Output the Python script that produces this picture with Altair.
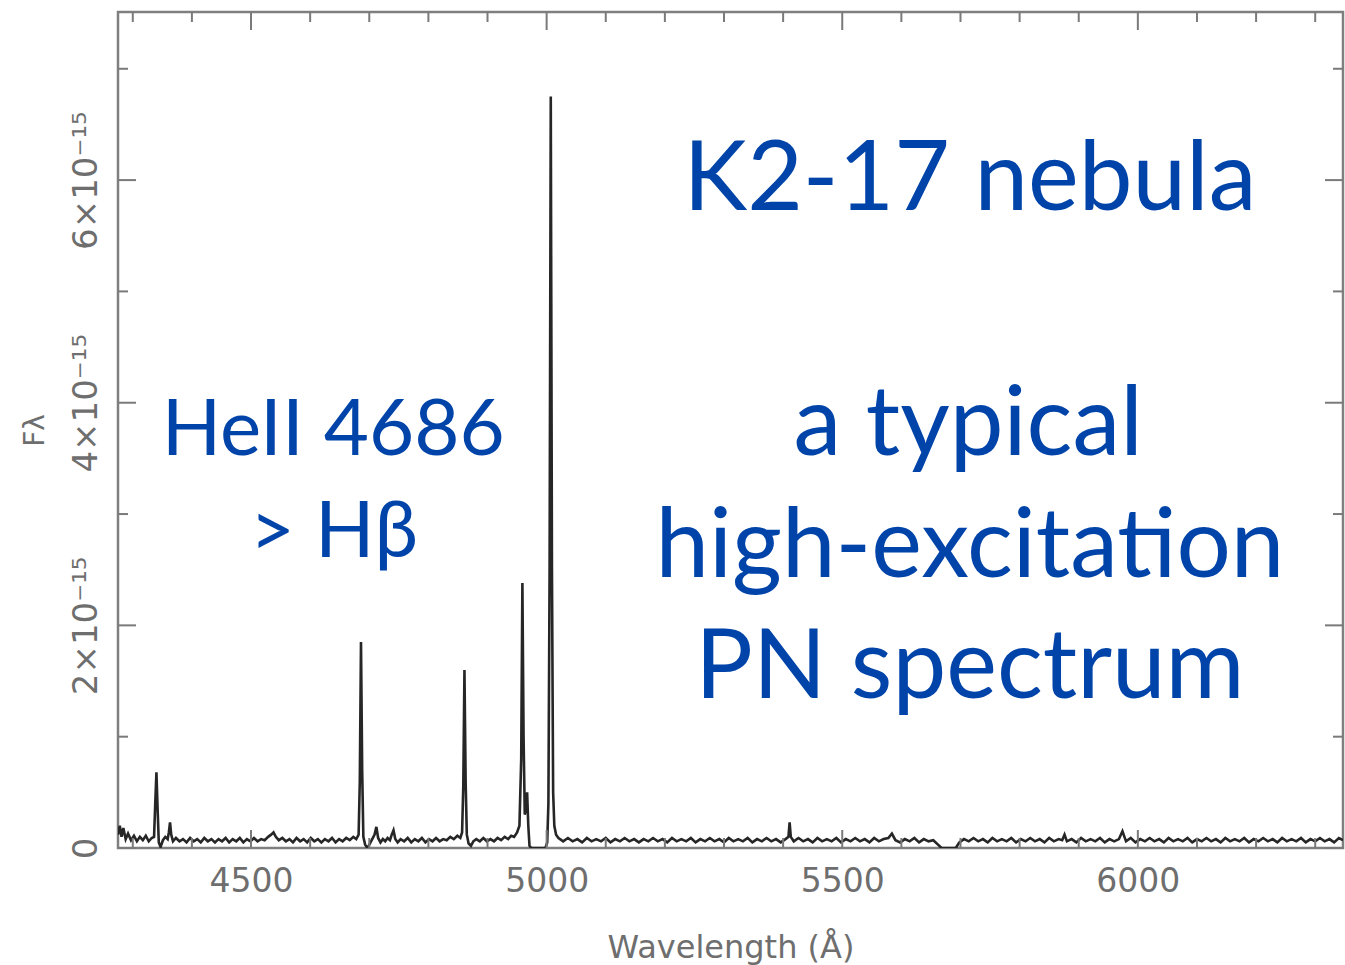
import altair as alt
import pandas as pd

# ---- spectrum (flux in units of 1e-15) ----
wavelength = [
    4275, 4278, 4281, 4284, 4288, 4292, 4297, 4302, 4307, 4312,
    4317, 4322, 4327, 4332, 4336, 4338, 4340, 4342, 4344, 4347,
    4351, 4355, 4359, 4361, 4363, 4365, 4368, 4373, 4379, 4385,
    4391, 4397, 4403, 4409, 4415, 4421, 4427, 4433, 4439, 4445,
    4451, 4457, 4463, 4469, 4475, 4481, 4487, 4493, 4499, 4505,
    4511, 4517, 4523, 4529, 4534, 4538, 4542, 4547, 4553, 4559,
    4565, 4571, 4577, 4583, 4589, 4595, 4601, 4607, 4613, 4619,
    4625, 4631, 4637, 4643, 4649, 4655, 4661, 4667, 4673, 4678,
    4682, 4684, 4686, 4688, 4690, 4693, 4697, 4701, 4705, 4709,
    4712, 4715, 4719, 4723, 4727, 4731, 4735, 4738, 4741, 4744,
    4748, 4753, 4759, 4765, 4771, 4777, 4783, 4789, 4795, 4801,
    4807, 4813, 4819, 4825, 4831, 4837, 4843, 4849, 4854, 4857,
    4859, 4861, 4863, 4865, 4868, 4872, 4876, 4881, 4887, 4893,
    4899, 4905, 4911, 4917, 4923, 4929, 4935, 4940, 4945, 4950,
    4954, 4957, 4959, 4961, 4963, 4965, 4967, 4969, 4971, 4974,
    4980, 4986, 4992, 4998, 5001, 5003, 5005, 5007, 5009, 5011,
    5013, 5016, 5020, 5028, 5036, 5044, 5052, 5060, 5068, 5076,
    5084, 5092, 5100, 5108, 5116, 5124, 5132, 5140, 5148, 5156,
    5164, 5172, 5180, 5188, 5196, 5204, 5212, 5220, 5228, 5236,
    5244, 5252, 5260, 5268, 5276, 5284, 5292, 5300, 5308, 5316,
    5324, 5332, 5340, 5348, 5356, 5364, 5372, 5380, 5388, 5396,
    5404, 5409, 5411, 5413, 5418, 5426, 5434, 5442, 5450, 5458,
    5466, 5474, 5482, 5490, 5498, 5506, 5514, 5522, 5530, 5538,
    5546, 5554, 5562, 5570, 5578, 5584, 5590, 5598, 5606, 5614,
    5622, 5630, 5638, 5646, 5654, 5662, 5668, 5680, 5692, 5698,
    5706, 5714, 5722, 5730, 5738, 5746, 5754, 5762, 5770, 5778,
    5786, 5794, 5802, 5810, 5818, 5826, 5834, 5842, 5850, 5858,
    5866, 5872, 5876, 5880, 5888, 5896, 5904, 5912, 5920, 5928,
    5936, 5944, 5952, 5960, 5968, 5974, 5980, 5988, 5996, 6004,
    6012, 6020, 6028, 6036, 6044, 6052, 6060, 6068, 6076, 6084,
    6092, 6100, 6108, 6116, 6124, 6132, 6140, 6148, 6156, 6164,
    6172, 6180, 6188, 6196, 6204, 6212, 6220, 6228, 6236, 6244,
    6252, 6260, 6268, 6276, 6284, 6292, 6300, 6308, 6316, 6324,
    6332, 6340, 6347,
]
flux = [
    0.12, 0.20, 0.10, 0.18, 0.08, 0.13, 0.07, 0.11, 0.06, 0.10,
    0.07, 0.11, 0.06, 0.09, 0.10, 0.40, 0.68, 0.35, 0.05, 0.01,
    0.07, 0.10, 0.08, 0.14, 0.23, 0.12, 0.06, 0.09, 0.06, 0.08,
    0.05, 0.09, 0.06, 0.08, 0.05, 0.09, 0.06, 0.08, 0.05, 0.08,
    0.06, 0.09, 0.05, 0.08, 0.06, 0.09, 0.05, 0.08, 0.06, 0.09,
    0.06, 0.08, 0.07, 0.10, 0.12, 0.14, 0.10, 0.07, 0.09, 0.06,
    0.08, 0.05, 0.09, 0.06, 0.08, 0.05, 0.09, 0.06, 0.08, 0.05,
    0.08, 0.06, 0.09, 0.05, 0.08, 0.06, 0.09, 0.07, 0.10, 0.08,
    0.12, 0.60, 1.85, 0.70, 0.10, 0.03, 0.00, 0.04, 0.08, 0.12,
    0.19, 0.09, 0.05, 0.08, 0.06, 0.09, 0.07, 0.12, 0.16, 0.08,
    0.05, 0.08, 0.06, 0.09, 0.05, 0.08, 0.06, 0.09, 0.05, 0.08,
    0.06, 0.09, 0.06, 0.08, 0.07, 0.10, 0.08, 0.11, 0.09, 0.14,
    0.55, 1.60, 0.60, 0.12, 0.04, 0.02, 0.06, 0.08, 0.06, 0.09,
    0.06, 0.08, 0.06, 0.09, 0.07, 0.10, 0.08, 0.11, 0.10, 0.14,
    0.20, 0.80, 2.38, 1.00, 0.30, 0.35, 0.50, 0.20, 0.02, 0.00,
    0.00, 0.00, 0.00, 0.00, 0.05, 0.40, 2.50, 6.75, 2.50, 0.50,
    0.20, 0.12, 0.09, 0.06, 0.09, 0.06, 0.08, 0.05, 0.09, 0.06,
    0.08, 0.06, 0.09, 0.05, 0.08, 0.06, 0.09, 0.06, 0.08, 0.05,
    0.08, 0.06, 0.09, 0.06, 0.08, 0.05, 0.09, 0.06, 0.08, 0.06,
    0.09, 0.05, 0.08, 0.06, 0.09, 0.06, 0.08, 0.05, 0.09, 0.06,
    0.08, 0.06, 0.09, 0.05, 0.08, 0.06, 0.09, 0.06, 0.08, 0.05,
    0.08, 0.10, 0.23, 0.10, 0.06, 0.09, 0.06, 0.08, 0.05, 0.09,
    0.06, 0.08, 0.06, 0.09, 0.05, 0.08, 0.06, 0.09, 0.06, 0.08,
    0.05, 0.09, 0.06, 0.08, 0.09, 0.13, 0.07, 0.05, 0.08, 0.06,
    0.09, 0.05, 0.08, 0.06, 0.07, 0.03, 0.00, 0.00, 0.00, 0.05,
    0.08, 0.06, 0.09, 0.06, 0.08, 0.05, 0.09, 0.06, 0.08, 0.06,
    0.09, 0.05, 0.08, 0.06, 0.09, 0.06, 0.08, 0.05, 0.09, 0.06,
    0.08, 0.07, 0.12, 0.06, 0.08, 0.05, 0.09, 0.06, 0.08, 0.06,
    0.09, 0.05, 0.08, 0.06, 0.08, 0.15, 0.06, 0.09, 0.05, 0.08,
    0.06, 0.09, 0.06, 0.08, 0.05, 0.09, 0.06, 0.08, 0.06, 0.09,
    0.05, 0.08, 0.06, 0.09, 0.06, 0.08, 0.05, 0.09, 0.06, 0.08,
    0.06, 0.09, 0.05, 0.08, 0.06, 0.09, 0.06, 0.08, 0.05, 0.09,
    0.06, 0.08, 0.06, 0.09, 0.05, 0.08, 0.06, 0.09, 0.06, 0.08,
    0.05, 0.09, 0.07,
]

# ---- axis ticks ----
x_major = [4500, 5000, 5500, 6000]
x_minor = [4300, 4400, 4600, 4700, 4800, 4900, 5100, 5200, 5300, 5400,
           5600, 5700, 5800, 5900, 6100, 6200, 6300]
y_major = [0, 2, 4, 6]
y_minor = [1, 3, 5, 7]

# ---- annotations ----
right_text = ["K2-17 nebula", "a typical", "high-excitation", "PN spectrum"]
right_wave = [5716, 5713, 5716, 5716]
right_flux = [5.73, 3.53, 2.43, 1.35]
left_text = ["HeII 4686", "> Hβ"]
left_wave = [4639, 4640]
left_flux = [3.53, 2.61]

W, H = 1225, 836
GRAY = "#6e6e6e"
TICK = "#7a7a7a"
BLUE = "#0044aa"

xs = alt.Scale(domain=[4275, 6347], nice=False, zero=False)
ys = alt.Scale(domain=[0, 7.51], nice=False, zero=False)

x_axis = alt.Axis(
    values=x_major, format="d", ticks=False, domain=False, grid=False,
    labelFont="DejaVu Sans", labelFontSize=33, labelColor=GRAY, labelPadding=17,
    title="Wavelength (Å)", titleFont="DejaVu Sans", titleFontSize=32,
    titleFontWeight="normal", titleColor=GRAY, titlePadding=34)
y_axis = alt.Axis(
    values=y_major, ticks=False, domain=False, grid=False,
    labelExpr="datum.value == 0 ? '0' : datum.value + '×10⁻¹⁵'",
    labelAngle=270, labelAlign="center", labelBaseline="bottom",
    labelFont="DejaVu Sans", labelFontSize=34, labelColor=GRAY, labelPadding=15,
    title="Fλ", titleAngle=270, titleFont="DejaVu Sans", titleFontSize=28,
    titleFontWeight="normal", titleColor=GRAY, titlePadding=20)

X = lambda f: alt.X(f, scale=xs, axis=x_axis, title="Wavelength (Å)")
Y = lambda f: alt.Y(f, scale=ys, axis=y_axis, title="Fλ")

spec_df = pd.DataFrame({"w": wavelength, "f": flux})

spectrum = alt.Chart(spec_df).mark_line(color="#262626", strokeWidth=2.6, clip=True).encode(
    x=X("w:Q"), y=Y("f:Q"))


def xticks(vals, length):
    df = pd.DataFrame({"w": vals})
    base = alt.Chart(df).mark_rule(color=TICK, strokeWidth=2)
    top = base.encode(x=X("w:Q"), y=alt.value(0), y2=alt.value(length))
    bot = base.encode(x=X("w:Q"), y=alt.value(H), y2=alt.value(H - length))
    return [top, bot]


def yticks(vals, length):
    df = pd.DataFrame({"f": vals})
    base = alt.Chart(df).mark_rule(color=TICK, strokeWidth=2)
    left = base.encode(y=Y("f:Q"), x=alt.value(0), x2=alt.value(length))
    right = base.encode(y=Y("f:Q"), x=alt.value(W), x2=alt.value(W - length))
    return [left, right]


rtext = alt.Chart(pd.DataFrame({"t": right_text, "w": right_wave, "f": right_flux})).mark_text(
    font="Lato", fontSize=96, color=BLUE, align="center", baseline="alphabetic"
).encode(x=X("w:Q"), y=Y("f:Q"), text="t:N")

ltext = alt.Chart(pd.DataFrame({"t": left_text, "w": left_wave, "f": left_flux})).mark_text(
    font="Lato", fontSize=78, color=BLUE, align="center", baseline="alphabetic"
).encode(x=X("w:Q"), y=Y("f:Q"), text="t:N")

layers = [spectrum] + xticks(x_major, 18) + xticks(x_minor, 10) + yticks(y_major, 18) + yticks(y_minor, 10) + [rtext, ltext]

chart = alt.layer(*layers).properties(
    width=W, height=H,
    autosize=alt.AutoSizeParams(type="none"),
    padding={"left": 118, "top": 12, "right": 2, "bottom": 117},
    background="white",
).configure_view(stroke="#7f7f7f", strokeWidth=2.5)

chart.save("out.html", embed_options={"renderer": "svg", "actions": False})
